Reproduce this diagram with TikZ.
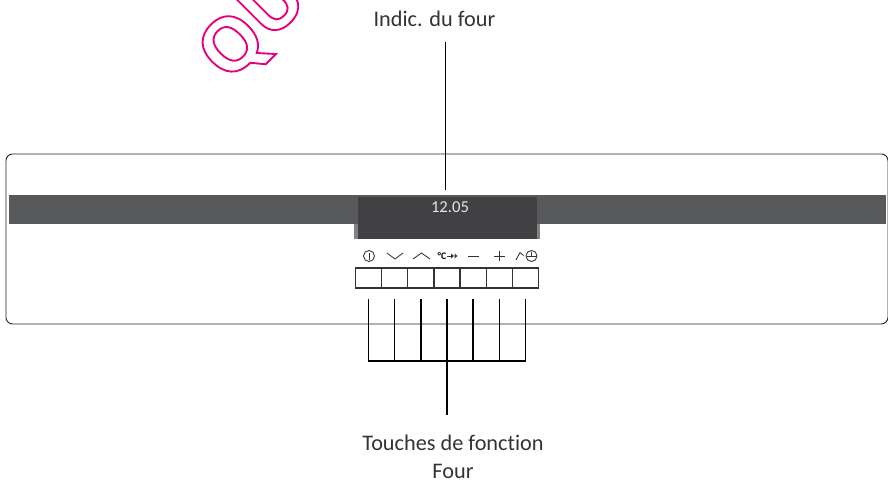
\documentclass[tikz,border=0pt]{standalone}
\usepackage{fontspec}
\usepackage{tikz}
\usetikzlibrary{calc}
\usetikzlibrary{positioning}
\setmainfont[Ligatures=NoCommon]{Carlito}
\newfontfamily\markfont{Open Sans}
\definecolor{markPink}{HTML}{E6007E}
\definecolor{bandGrey}{HTML}{58595B}
\definecolor{screenGrey}{HTML}{414042}
\definecolor{flangeGrey}{HTML}{808285}
\begin{document}
\begin{tikzpicture}[x=0.75pt, y=-0.75pt, node distance = 0cm]
    \tikzset{
        panel/.style={
                draw=black!85,
                line width=0.7pt,
                rounded corners=5pt
            }
    }
    \tikzset{
        funcKey/.style={
                draw=black!80,
                line width=1pt,
                rectangle,
                minimum width=19.6pt,
                minimum height=15pt,
                inner sep=0pt,
                outer sep=0pt
            }
    }
    \tikzset{
        lead/.style={
                draw=black,
                line width=1pt
            }
    }
    \tikzset{
        caption/.style={
                font=\fontsize{16.7}{20.5}\selectfont,
                text=black!80,
                align=center,
                inner sep=0pt
            }
    }
    \tikzset{
        icon/.style={
                draw=black!80,
                line width=0.65pt
            }
    }
    \useasboundingbox (0,0) rectangle (888,482);
    % Placing panel
    \node[panel, minimum width=661.5pt, minimum height=127.5pt, anchor=north west](panelBox) at (5.5,153.5){};
    \fill[bandGrey] (9,195) rectangle (886,224);
    \fill[flangeGrey] (354,224) rectangle (540,239);
    \node[fill=screenGrey, minimum width=134.25pt, minimum height=31.5pt, inner sep=0pt, anchor=north west](screen) at (358,197){};
    \node[text=white!90!black, font=\fontsize{12.5}{13}\selectfont, inner sep=0pt](clock) at (450,207.5){12.05};
    % Placing keys
    \node[funcKey, anchor=north west](key1) at (355.5,268){};
    \node[funcKey, right = of key1](key2){};
    \node[funcKey, right = of key2](key3){};
    \node[funcKey, right = of key3](key4){};
    \node[funcKey, right = of key4](key5){};
    \node[funcKey, right = of key5](key6){};
    \node[funcKey, right = of key6](key7){};
    % Placing icons
    \draw[icon] (369,256) circle (5.5);
    \draw[icon] (369,252.5) -- (369,259.5);
    \draw[icon] (387,253) -- (395,259) -- (403,253);
    \draw[icon] (413,259) -- (421.5,253) -- (430,259);
    \node[inner sep=0pt, font=\fontsize{7.5}{8}\selectfont\bfseries](degree) at (442,256){°C};
    \draw[icon] (447,256) -- (451,256);
    \fill[black!80] (451,253.5) -- (454,256) -- (451,258.5) -- cycle;
    \fill[black!80] (454.5,253.5) -- (457.5,256) -- (454.5,258.5) -- cycle;
    \draw[icon] (468,256) -- (479,256);
    \draw[icon] (494,256) -- (505,256);
    \draw[icon] (499.5,251) -- (499.5,261);
    \draw[icon] (516,260) -- (520,252.5) -- (523.5,255.5);
    \draw[icon] (531.5,256) circle (5.5);
    \draw[icon] (531.5,251.5) -- (531.5,256);
    \draw[icon] (527,256) -- (536,256);
    % Placing texts
    \node[caption](ovenLabel) at (434.5,19){Indic. du four};
    \node[caption](keysLabel) at (453,457){Touches de fonction\\Four};
    \coordinate(ovenEnd) at (445.5,42);
    \coordinate(busEnd) at (447,415);
    \coordinate(busMid) at (447,361);
    % Placing leads
    \draw[lead](ovenEnd) -- (445.5,190);
    \draw[lead](busMid) -- (busEnd);
    \draw[lead] ($(key1.center)+(0,21)$) |- (busMid);
    \draw[lead] ($(key7.center)+(0,21)$) |- (busMid);
    \foreach \k in {2,...,6}{
        \draw[lead] ($(key\k.center)+(0,21)$) -- ($(key\k.center)+(0,83)$);
    }
    % Outlined watermark
    \node[rotate=45, text=markPink, inner sep=0pt, font=\fontsize{56}{56}\markfont\bfseries\selectfont, anchor=base west](mark) at (228,84){\special{pdf:literal direct 1 Tr 1.4 w}QU\special{pdf:literal direct 0 Tr}};
\end{tikzpicture}
\end{document}
